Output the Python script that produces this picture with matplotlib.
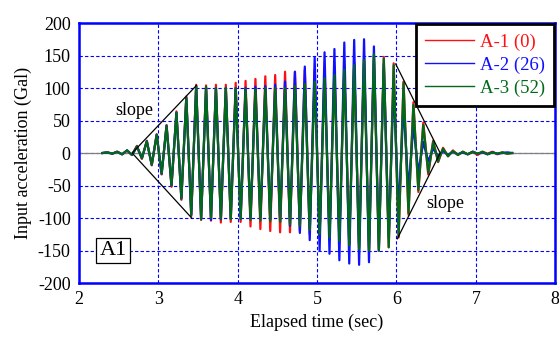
import matplotlib
matplotlib.use("Agg")
import matplotlib.pyplot as plt
import numpy as np

plt.rcParams['font.family'] = ['Liberation Serif', 'DejaVu Serif']
plt.rcParams['font.size'] = 12
plt.rcParams['axes.unicode_minus'] = False

# half-cycle peak values (Gal), one every half period, first at t0
t0 = 2.2946
half_period = 0.0622

a1 = [0, 1, -1, 2, -2, 4, -3,
      11, -9, 19, -19, 29, -33, 43, -52, 64, -72, 87, -97, 105,
      -103, 104, -104, 105, -107, 105, -106, 108, -106, 111, -113, 114,
      -117, 118, -120, 120, -122, 125, -122, 125, -120, 128, -125, 128,
      -130, 130, -132, 132, -135, 133, -140, 138, -145, 145, -150, 150,
      -150, 148, -145, 138, -130, 110, -95, 78, -60, 47, -33, 19,
      -14, 8, -5, 4, -3, 2, -2, 2, -3, 2, -1, 2, -2, 1, -1, 0]

a2 = [0, 1, -1, 2, -2, 4, -3,
      10, -8, 18, -18, 28, -32, 42, -50, 62, -70, 85, -95, 103,
      -100, 100, -103, 100, -102, 100, -100, 100, -100, 100, -100, 102,
      -100, 103, -102, 105, -105, 110, -112, 125, -123, 133, -134, 147,
      -150, 155, -155, 160, -165, 170, -170, 174, -172, 175, -168, 164,
      -150, 137, -131, 108, -92, 74, -57, 43, -30, 17,
      -13, 7, -5, 3, -3, 2, -2, 1, -2, 2, -1, 1, -2, 1, -1, 0, 1, 0]

a3 = [0, 1, -1, 2, -2, 4, -3,
      10, -8, 18, -18, 28, -32, 42, -50, 62, -70, 85, -95, 103,
      -102, 102, -100, 100, -101, 100, -102, 100, -102, 98, -103, 98,
      -104, 100, -105, 100, -106, 100, -110, 103, -112, 106, -118, 110,
      -125, 115, -130, 120, -135, 128, -142, 135, -148, 143, -150, 152,
      -150, 145, -145, 135, -128, 108, -92, 74, -57, 43, -30, 17,
      -13, 7, -5, 3, -3, 2, -2, 2, -1, 2, -2, 1, -1, 1, -1, 0]

labels = ['A-1 (0)', 'A-2 (26)', 'A-3 (52)']
colors = ['#ff1010', '#1010ff', '#006a1a']

# envelope "slope" lines
slope_left_x = [3.48, 2.67, 3.42]
slope_left_y = [104, 0, -100]
slope_right_x = [5.99, 6.55, 6.01]
slope_right_y = [137, 0, -132]

fig = plt.figure(figsize=(5.59, 3.40), dpi=100)
ax = fig.add_axes([0.1413, 0.1676, 0.852, 0.7647])

ax.axhline(0, color='gray', lw=0.9, zorder=1)
for vals, lab, c in zip([a1, a2, a3], labels, colors):
    t = t0 + half_period * np.arange(len(vals))
    ax.plot(t, vals, color=c, lw=1.6, label=lab, zorder=3)

ax.plot(slope_left_x, slope_left_y, color='black', lw=0.9, zorder=4)
ax.plot(slope_right_x, slope_right_y, color='black', lw=0.9, zorder=4)
ax.text(2.70, 66, 'slope', ha='center', va='center', fontsize=13)
ax.text(6.62, -77, 'slope', ha='center', va='center', fontsize=13)
ax.text(2.43, -150, 'A1', ha='center', va='center', fontsize=16,
        bbox=dict(boxstyle='square,pad=0.15', fc='white', ec='black', lw=0.9))

ax.set_xlim(2, 8)
ax.set_ylim(-200, 200)
ax.set_xticks(range(2, 9))
ax.set_yticks(range(-200, 201, 50))
ax.grid(True, color='blue', linestyle=(0, (3, 2)), lw=0.8)
ax.set_axisbelow(True)
ax.tick_params(length=0, pad=6, labelsize=13)
for s in ax.spines.values():
    s.set_color('blue')
    s.set_linewidth(1.8)

ax.set_xlabel('Elapsed time (sec)', fontsize=13)
ax.set_ylabel('Input acceleration (Gal)', fontsize=13)

leg = ax.legend(loc='upper right', borderaxespad=0.05, fancybox=False,
                handlelength=2.6, handletextpad=0.3, labelspacing=0.3,
                borderpad=0.5, fontsize=13.5, framealpha=1)
leg.get_frame().set_edgecolor('black')
leg.get_frame().set_linewidth(2)
for txt, c in zip(leg.get_texts(), colors):
    txt.set_color(c)
for line in leg.get_lines():
    line.set_linewidth(1.0)

fig.savefig('out.png', dpi=100)
